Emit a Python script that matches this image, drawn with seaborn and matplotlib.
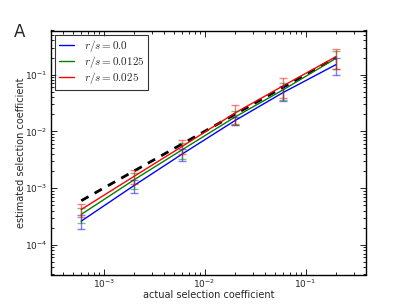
import matplotlib
matplotlib.use("Agg")
import matplotlib.pyplot as plt
import seaborn as sns
import pandas as pd
import numpy as np

# ---- data ----
actual = [6e-4, 2e-3, 6e-3, 2e-2, 6e-2, 2e-1]
est_r0 = [2.62e-4, 1.11e-3, 3.99e-3, 0.0155, 0.0484, 0.150]
est_r1 = [3.44e-4, 1.40e-3, 4.75e-3, 0.0179, 0.054, 0.194]
est_r2 = [4.20e-4, 1.61e-3, 5.43e-3, 0.0211, 0.0635, 0.207]
err_r0 = [0.73e-4, 0.28e-3, 1.0e-3, 0.0025, 0.014, 0.05]
err_r1 = [1.0e-4, 0.45e-3, 1.5e-3, 0.005, 0.018, 0.07]
err_r2 = [1.1e-4, 0.45e-3, 1.5e-3, 0.0075, 0.024, 0.08]
labels = ["$r/s = 0.0$", "$r/s = 0.0125$", "$r/s = 0.025$"]
colors = ["#0000ff", "#008000", "#ff0000"]

sns.set_style("ticks")
plt.rcParams["font.family"] = ["DejaVu Sans"]
plt.rcParams["mathtext.fontset"] = "cm"
plt.rcParams["xtick.direction"] = "in"
plt.rcParams["ytick.direction"] = "in"
plt.rcParams["xtick.minor.visible"] = True
plt.rcParams["ytick.minor.visible"] = True

rows = []
for lab, ys in zip(labels, [est_r0, est_r1, est_r2]):
    for xv, yv in zip(actual, ys):
        rows.append({"actual": xv, "estimated": yv, "group": lab})
df = pd.DataFrame(rows)

fig = plt.figure(figsize=(4.07, 3.05), dpi=100)
ax = fig.add_axes([0.125, 0.1, 0.775, 0.8])

# diagonal reference line y = x
ax.plot(actual, actual, color="black", ls="--", lw=2, dashes=(3, 2.5), zorder=1)

sns.lineplot(data=df, x="actual", y="estimated", hue="group", palette=colors,
             hue_order=labels, lw=1, ax=ax, estimator=None, sort=True, zorder=2)

for ys, es, c in zip([est_r0, est_r1, est_r2], [err_r0, err_r1, err_r2], colors):
    ax.errorbar(actual, ys, yerr=es, fmt="none", ecolor=c, alpha=0.5,
                capsize=3, elinewidth=1, capthick=1, zorder=3)

ax.set_xscale("log")
ax.set_yscale("log")
ax.set_xlim(3e-4, 0.4)
ax.set_ylim(3e-5, 0.6)

ax.tick_params(which="both", top=True, right=True, labelsize=6.5, color="black",
               pad=2.5)
ax.tick_params(which="major", length=4, width=0.6)
ax.tick_params(which="minor", length=2.5, width=0.6)
for sp in ax.spines.values():
    sp.set_linewidth(1)
    sp.set_color("black")

ax.set_xlabel("actual selection coefficient", fontsize=7, labelpad=0)
ax.set_ylabel("estimated selection coefficient", fontsize=7, labelpad=-0.5)

leg = ax.legend(loc="upper left", fontsize=8, frameon=True, fancybox=False,
                edgecolor="black", handlelength=1.4, handletextpad=0.9,
                borderpad=0.3, labelspacing=0.0, borderaxespad=0.4)
leg.get_frame().set_linewidth(0.8)

fig.text(0.034, 0.88, "A", fontsize=12)

fig.savefig("out.png", dpi=100)
